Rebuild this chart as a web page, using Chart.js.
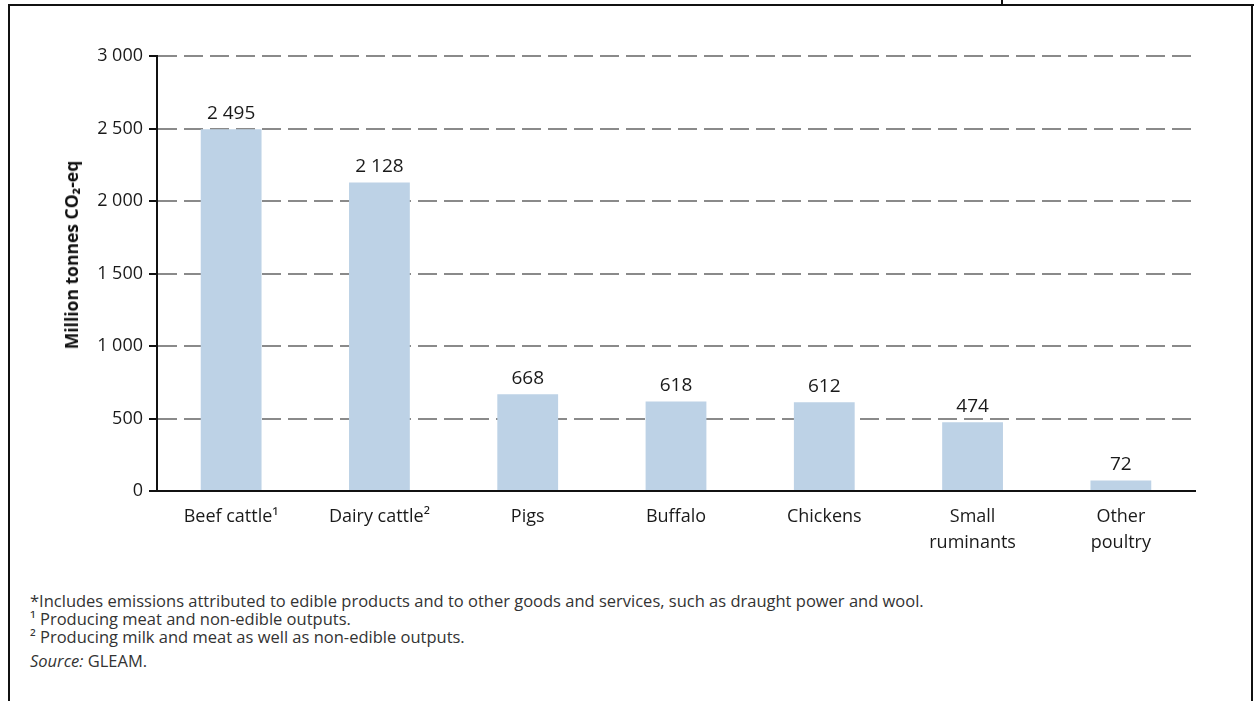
<!DOCTYPE html>
<html>
<head>
<meta charset="utf-8">
<script src="https://cdn.jsdelivr.net/npm/chart.js@4.4.1/dist/chart.umd.min.js"></script>
<style>
  html, body { margin: 0; padding: 0; background: #fff; }
  body { width: 1254px; height: 701px; position: relative; overflow: hidden; font-family: "Open Sans", sans-serif; }
  #wrap { position: absolute; left: 0; top: 0; width: 1254px; height: 561px; }
  .ln { position: absolute; background: #111; }
  #ytitle { position: absolute; left: 71px; top: 255px; transform: translate(-50%, -50%) rotate(-90deg);
            font: bold 17.5px "Open Sans", sans-serif; color: #111; white-space: nowrap; }
  .fn { position: absolute; left: 30px; font-size: 16.5px; line-height: 22px; color: #333; white-space: nowrap; }
</style>
</head>
<body>
<div class="ln" style="left:8px; top:4px; width:1246px; height:2px;"></div>
<div class="ln" style="left:1001px; top:0; width:2px; height:5px;"></div>
<div class="ln" style="left:8px; top:4px; width:2px; height:697px;"></div>
<div class="ln" style="left:1251px; top:4px; width:2px; height:697px;"></div>
<div id="wrap"><canvas id="c"></canvas></div>
<div id="ytitle">Million tonnes CO₂-eq</div>
<div class="fn" style="top:590px;">*Includes emissions attributed to edible products and to other goods and services, such as draught power and wool.</div>
<div class="fn" style="top:608px;">¹ Producing meat and non-edible outputs.</div>
<div class="fn" style="top:626px;">² Producing milk and meat as well as non-edible outputs.</div>
<div class="fn" style="top:650px;"><i>Source:</i> GLEAM.</div>
<script>
const categories = [
  'Beef cattle¹',
  'Dairy cattle²',
  'Pigs',
  'Buffalo',
  'Chickens',
  ['Small', 'ruminants'],
  ['Other', 'poultry']
];
const emissions = [2495, 2128, 668, 618, 612, 474, 72];
const yTickLabels = ['0', '500', '1 000', '1 500', '2 000', '2 500', '3 000'];

function fmt(v) { return String(v).replace(/\B(?=(\d{3})+(?!\d))/g, ' '); }

const valueLabels = {
  id: 'valueLabels',
  afterDatasetsDraw(chart) {
    const ctx = chart.ctx;
    const meta = chart.getDatasetMeta(0);
    ctx.save();
    ctx.font = '19px "Open Sans", sans-serif';
    ctx.fillStyle = '#1a1a1a';
    ctx.textAlign = 'center';
    ctx.textBaseline = 'bottom';
    meta.data.forEach((bar, i) => {
      ctx.fillText(fmt(emissions[i]), bar.x, bar.y - 6);
    });
    ctx.restore();
  }
};

new Chart(document.getElementById('c'), {
  type: 'bar',
  data: {
    labels: categories,
    datasets: [{
      data: emissions,
      backgroundColor: '#bdd2e6',
      borderWidth: 0,
      categoryPercentage: 1,
      barPercentage: 0.41
    }]
  },
  options: {
    responsive: true,
    maintainAspectRatio: false,
    animation: false,
    layout: { padding: { top: 56, right: 59, left: 0, bottom: 0 } },
    plugins: { legend: { display: false }, tooltip: { enabled: false } },
    scales: {
      x: {
        grid: { display: false, drawTicks: false },
        border: { display: true, color: '#111', width: 2 },
        ticks: {
          padding: 13,
          color: '#1a1a1a',
          font: { family: '"Open Sans", sans-serif', size: 18, lineHeight: 1.45 },
          maxRotation: 0, autoSkip: false
        },
        afterFit: s => { s.height = 70; }
      },
      y: {
        min: 0, max: 3000,
        ticks: {
          stepSize: 500,
          padding: 6,
          color: '#1a1a1a',
          font: { family: '"Open Sans", sans-serif', size: 18 },
          callback: (v, i) => yTickLabels[i]
        },
        grid: {
          color: '#8a8a8a',
          lineWidth: 2,
          tickLength: 8,
          tickColor: '#111',
          tickWidth: 2,
          tickBorderDash: []
        },
        border: { display: true, color: '#111', width: 2, dash: [19, 7] },
        afterFit: s => { s.width = 157; }
      }
    }
  },
  plugins: [valueLabels]
});
</script>
</body>
</html>
